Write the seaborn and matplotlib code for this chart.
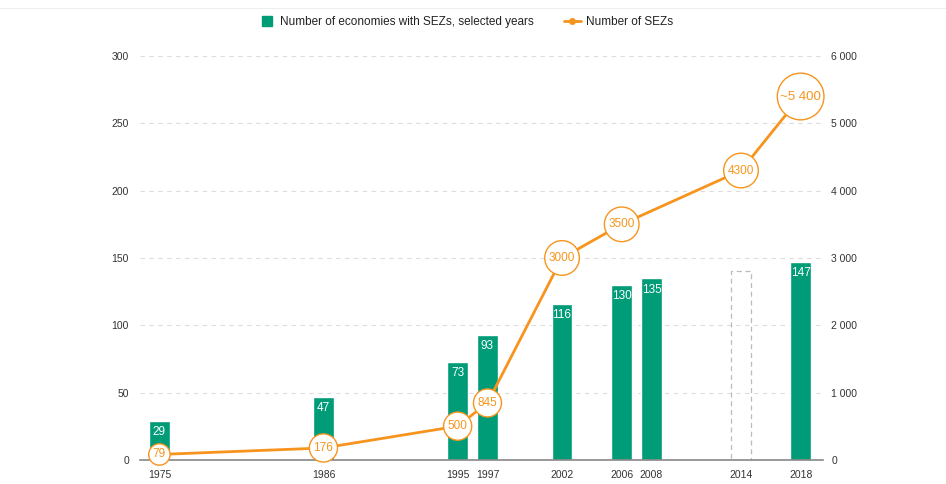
import numpy as np
import pandas as pd
import matplotlib
matplotlib.use("Agg")
import matplotlib.pyplot as plt
import seaborn as sns
from matplotlib.lines import Line2D
from matplotlib.ticker import FuncFormatter, MultipleLocator

# Data
bar_years = [1975, 1986, 1995, 1997, 2002, 2006, 2008, 2018]
economies = [29, 47, 73, 93, 116, 130, 135, 147]
gap_year = [2014]          # outlined placeholder bar
gap_value = [140]

sez_years = [1975, 1986, 1995, 1997, 2002, 2006, 2014, 2018]
sez_count = [79, 176, 500, 845, 3000, 3500, 4300, 5400]
sez_labels = ["79", "176", "500", "845", "3000", "3500", "4300", "~5 400"]

tick_years = [1975, 1986, 1995, 1997, 2002, 2006, 2008, 2014, 2018]

green = "#009B77"
orange = "#F7941D"
grey_txt = "#333333"

sns.set_style("white")
plt.rcParams["font.family"] = ["Liberation Sans", "DejaVu Sans"]

fig = plt.figure(figsize=(9.46, 4.84), dpi=100)
ax = fig.add_axes([0.148, 0.050, 0.722, 0.834])
ax2 = ax.twinx()

df_bar = pd.DataFrame({"year": bar_years, "n": economies})
sns.barplot(data=df_bar, x="year", y="n", native_scale=True, color=green,
            width=0.7, saturation=1, ax=ax, zorder=2)
ax.bar(gap_year, gap_value, width=1.4, fill=False, edgecolor="#bbbbbb",
       linestyle=(0, (4, 3)), linewidth=0.9, zorder=2)

# bar labels
for x, v in zip(bar_years, economies):
    ax.text(x, v - 4, str(v), color="white", ha="center", va="top",
            fontsize=8.5, zorder=3)

df_line = pd.DataFrame({"year": sez_years, "n": sez_count})
sns.lineplot(data=df_line, x="year", y="n", color=orange, linewidth=2,
             ax=ax2, zorder=4)
for x, v, lab in zip(sez_years, sez_count, sez_labels):
    big = lab.startswith("~")
    ax2.text(x, v, lab, color=orange, ha="center", va="center",
             fontsize=9.5 if big else 8.5, zorder=5,
             bbox=dict(boxstyle="circle,pad=%s" % (0.22 if big else 0.35),
                       fc="white", ec=orange, lw=1))

# axes styling
ax.set_xlim(1973.7, 2019.5)
ax.set_ylim(0, 300)
ax2.set_ylim(0, 6000)
ax.set_xlabel("")
ax.set_ylabel("")
ax2.set_xlabel("")
ax2.set_ylabel("")

ax.set_yticks(np.arange(0, 301, 50))
ax2.set_yticks(np.arange(0, 6001, 1000))
ax2.yaxis.set_major_formatter(FuncFormatter(lambda v, p: f"{int(v):,}".replace(",", " ")))

ax.set_xticks(tick_years)
ax.set_xticklabels([str(y) for y in tick_years])
ax.xaxis.set_minor_locator(MultipleLocator(1))

for a in (ax, ax2):
    for s in a.spines.values():
        s.set_visible(False)
ax.spines["bottom"].set_visible(True)
ax.spines["bottom"].set_color("#888888")
ax.spines["bottom"].set_linewidth(1.2)
ax.spines["bottom"].set_zorder(6)

ax.tick_params(axis="x", which="both", direction="out", length=4, width=0.8,
               color="#888888", labelsize=7.5, labelcolor=grey_txt, pad=3)
ax.tick_params(axis="y", length=0, labelsize=7.5, labelcolor=grey_txt, pad=8)
ax2.tick_params(axis="y", length=0, labelsize=7.5, labelcolor=grey_txt, pad=6)

ax.yaxis.grid(True, color="#dddddd", linestyle=(0, (4, 4)), linewidth=0.8)
ax.set_axisbelow(True)
ax2.set_zorder(ax.get_zorder() + 1)
ax2.patch.set_visible(False)

# legend
handles = [
    Line2D([0], [0], marker="s", color="none", markerfacecolor=green,
           markeredgecolor=green, markersize=7),
    Line2D([0], [0], marker="o", color=orange, markerfacecolor=orange,
           markersize=4, linewidth=2),
]
fig.legend(handles, ["Number of economies with SEZs, selected years", "Number of SEZs"],
           loc="center", bbox_to_anchor=(0.492, 0.955), ncol=2, frameon=False,
           fontsize=8.5, handlelength=1.5, handletextpad=0.4, columnspacing=2.5,
           labelcolor="#222222")

fig.add_artist(Line2D([0, 1], [0.984, 0.984], color="#eeeeee", linewidth=0.8))

fig.savefig("out.png", dpi=100)
